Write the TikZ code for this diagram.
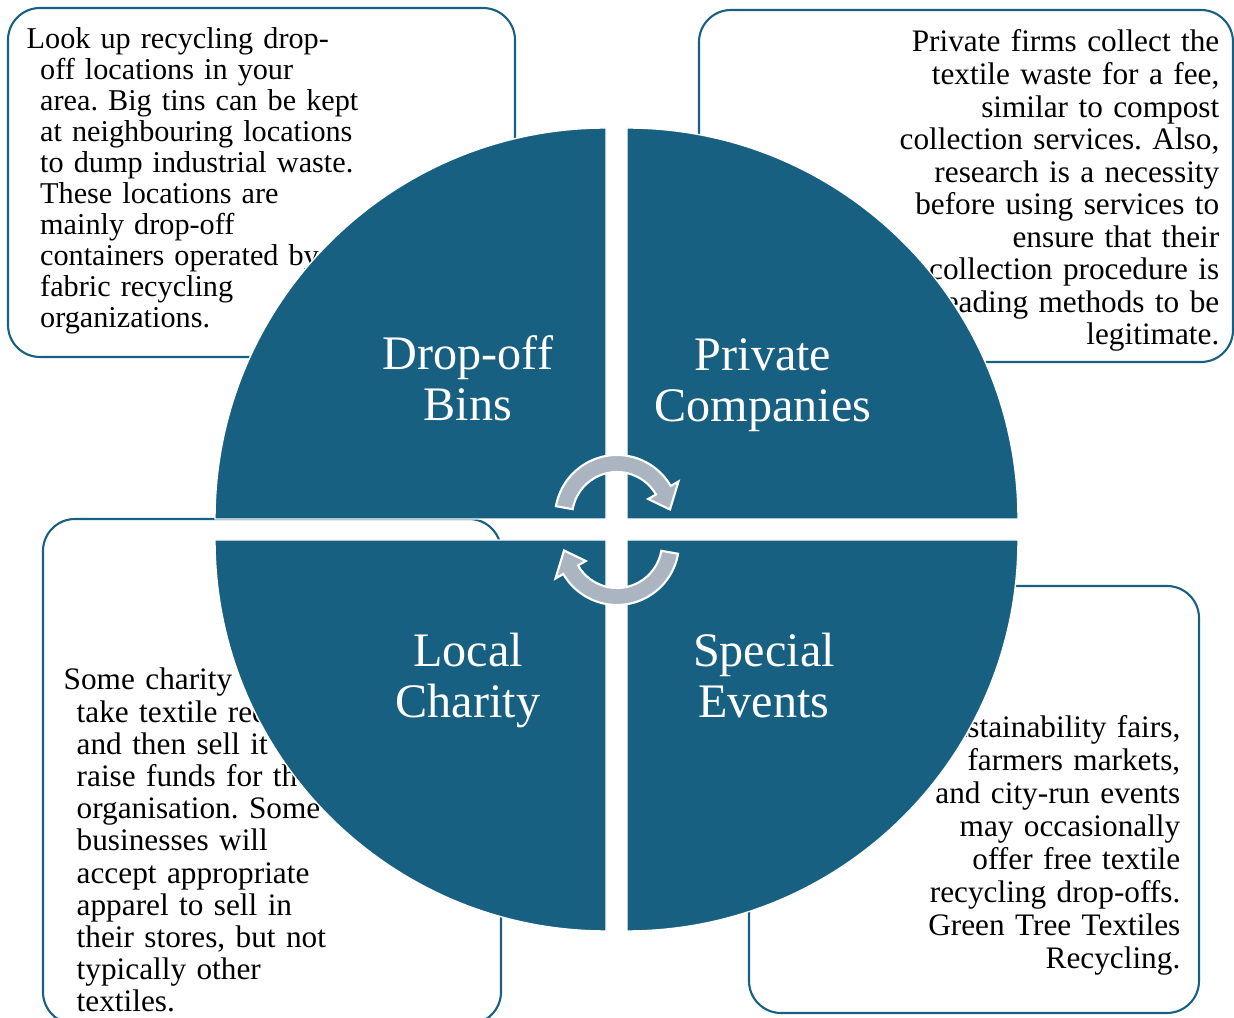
\documentclass[tikz,border=0pt]{standalone}
\usepackage{fontspec}
\setmainfont{Liberation Serif}
\frenchspacing
\definecolor{wheel}{RGB}{24,96,130}
\definecolor{arrowgray}{RGB}{170,181,193}
\tikzset{every picture/.style={x=0.1mm,y=0.1mm}}
\tikzset{infobox/.style={draw=wheel,line width=0.6pt,rounded corners=3.2mm,inner sep=0pt,outer sep=0pt}}
\tikzset{quarter/.style={fill=wheel,draw=white,line width=0.4pt}}
\tikzset{title/.style={text=white,text width=30mm,align=center,inner sep=0pt,font=\fontsize{13.7}{14.5}\selectfont}}
\tikzset{note/.style={inner sep=0pt,font=\fontsize{8.9}{9.25}\selectfont}}
\tikzset{turnarrow/.style={fill=arrowgray,draw=white,line width=0.6pt}}
% half-turn arrow around the origin, head at the right end
\newcommand{\halfturn}{(170:62) arc[start angle=170,end angle=30,radius=62] -- (30:71) -- (8:53.5) -- (30:36) -- (30:45) arc[start angle=30,end angle=170,radius=45] -- cycle}

\begin{document}
\begin{tikzpicture}
\useasboundingbox (0,0) rectangle (1234,1018);

% text boxes behind the wheel
\node [infobox,minimum width=50.7mm,minimum height=34.9mm] (binbox) at (261.5,835.5) {};
\node [infobox,minimum width=53.4mm,minimum height=35.2mm] (firmbox) at (966,832) {};
\node [infobox,minimum width=45.8mm,minimum height=50.5mm] (charitybox) at (272,246.5) {};
\node [infobox,minimum width=45mm,minimum height=42.7mm] (eventbox) at (974,218.5) {};

\node [note,text width=34mm,align=left,anchor=base west,font=\fontsize{8.6}{8.82}\selectfont] (bintext) at (26,969)
  {\hangindent=1.35mm Look up recycling drop-\newline off locations in your\newline area. Big tins can be kept\newline at neighbouring locations\newline to dump industrial waste.\newline These locations are\newline mainly drop-off\newline containers operated by\newline fabric recycling\newline organizations.\par};
\node [note,text width=34mm,align=right,anchor=base east] (firmtext) at (1220,966)
  {Private firms collect the\\ textile waste for a fee,\\ similar to compost\\ collection services. Also,\\ research is a necessity\\ before using services to\\ ensure that their\\ collection procedure is\\ leading methods to be\\ legitimate.};
\node [note,text width=34mm,align=left,anchor=base west,font=\fontsize{8.9}{9.16}\selectfont] (charitytext) at (63,328)
  {\hangindent=1.3mm Some charity\newline take textile recycling\newline and then sell it to\newline raise funds for their\newline organisation. Some\newline businesses will\newline accept appropriate\newline apparel to sell in\newline their stores, but not\newline typically other\newline textiles.\par};
\node [note,text width=32mm,align=right,anchor=base east,font=\fontsize{8.9}{9.36}\selectfont] (eventtext) at (1181,280)
  {Sustainability fairs,\\ farmers markets,\\ and city-run events\\ may occasionally\\ offer free textile\\ recycling drop-offs.\\ Green Tree Textiles\\ Recycling.};

% the four quarters
\filldraw [quarter] (606,499) -- ++(180:391) arc[start angle=180,end angle=90,radius=391] -- cycle;
\filldraw [quarter] (627,499) -- ++(90:391) arc[start angle=90,end angle=0,radius=391] -- cycle;
\filldraw [quarter] (606,478) -- ++(180:391) arc[start angle=180,end angle=270,radius=391] -- cycle;
\filldraw [quarter] (627,478) -- ++(0:391) arc[start angle=0,end angle=-90,radius=391] -- cycle;

\node [title,anchor=base] (bins) at (468,648) {Drop-off\\Bins};
\node [title,anchor=base] (firms) at (763,647) {Private\\Companies};
\node [title,anchor=base] (charity) at (468,351) {Local\\Charity};
\node [title,anchor=base] (events) at (764,351) {Special\\Events};

% cycle arrows in the middle
\begin{scope}[shift={(617,501)}]
\filldraw [turnarrow] \halfturn;
\end{scope}
\begin{scope}[shift={(617,475)},rotate=180]
\filldraw [turnarrow] \halfturn;
\end{scope}
\end{tikzpicture}
\end{document}
